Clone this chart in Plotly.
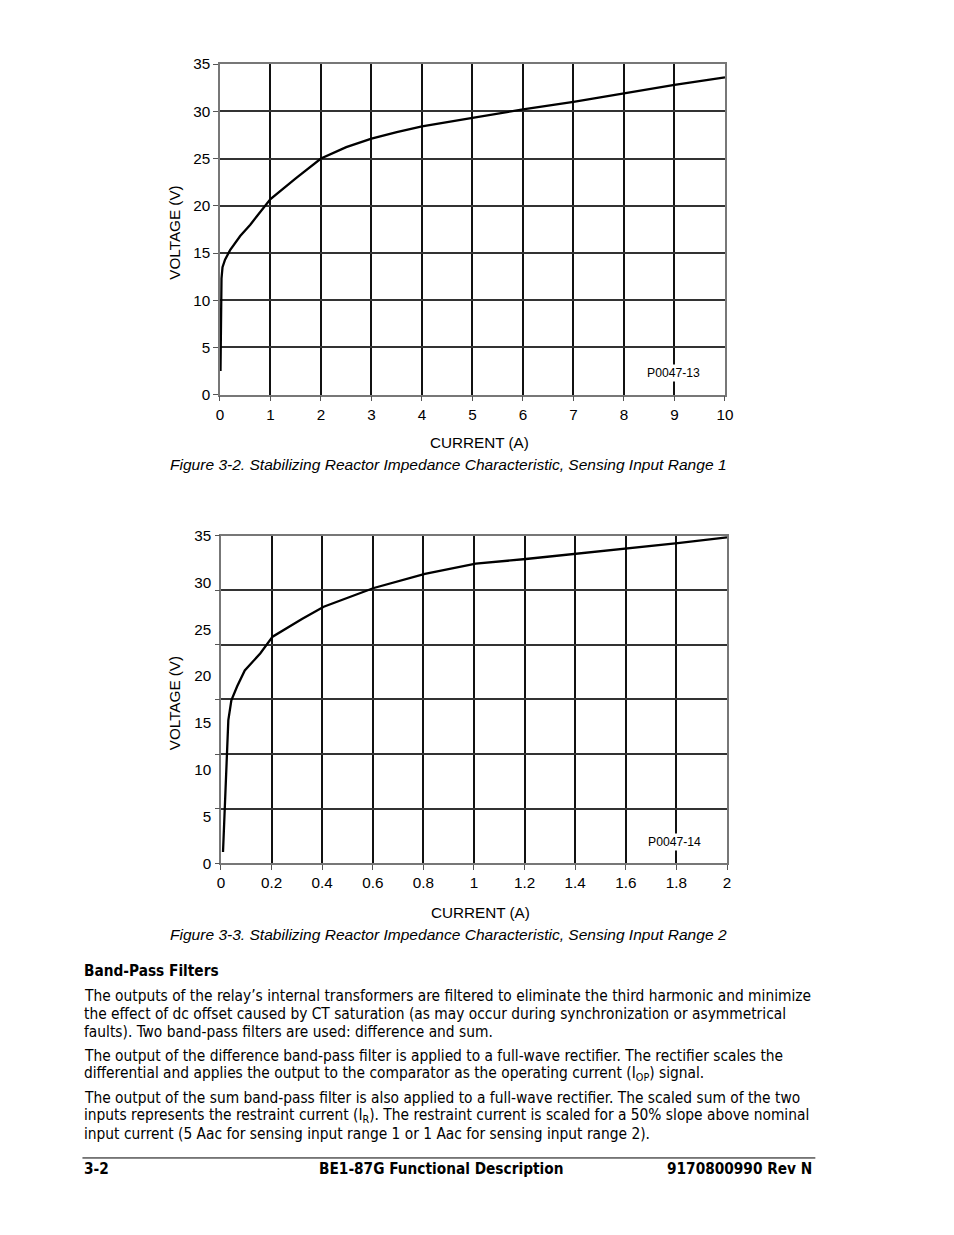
import plotly.graph_objects as go

W, H = 954, 1235
# the photographed page comes out offset by the 8px body margin and scaled to fit;
# positions below are given in target-page pixels and converted to figure pixels
SX, SY, OFF = 954 / 970, 1235 / 1251, 8
XNUDGE = 2

# ---- data: Figure 3-2 (Sensing Input Range 1)
current_r1 = [0.01, 0.02, 0.03, 0.05, 0.1, 0.2, 0.4, 0.6, 0.9, 1.0, 1.5, 2.0, 2.5, 3.0, 3.5, 4.0,
              5.0, 6.0, 7.0, 8.0, 9.0, 10.0]
voltage_r1 = [2.5, 7.0, 12.3, 13.5, 14.3, 15.3, 16.8, 18.0, 20.0, 20.7, 22.9, 25.0, 26.2, 27.1, 27.8, 28.4,
              29.3, 30.2, 31.0, 31.9, 32.8, 33.6]

# ---- data: Figure 3-3 (Sensing Input Range 2)
current_r2 = [0.008, 0.014, 0.023, 0.029, 0.041, 0.064, 0.094, 0.155, 0.204, 0.32, 0.406, 0.604,
              0.806, 1.007, 1.205, 1.405, 1.6, 1.805, 2.0]
voltage_r2 = [1.2, 5.7, 11.7, 15.3, 17.4, 18.9, 20.6, 22.4, 24.2, 26.1, 27.4, 29.4,
              30.9, 32.0, 32.5, 33.05, 33.6, 34.2, 34.8]

x_ticks_r1 = [0, 1, 2, 3, 4, 5, 6, 7, 8, 9, 10]
x_ticks_r2 = [0, 0.2, 0.4, 0.6, 0.8, 1, 1.2, 1.4, 1.6, 1.8, 2]
x_tick_text_r2 = ["0", "0.2", "0.4", "0.6", "0.8", "1", "1.2", "1.4", "1.6", "1.8", "2"]
y_ticks = [0, 5, 10, 15, 20, 25, 30, 35]

caption1 = "Figure 3-2. Stabilizing Reactor Impedance Characteristic, Sensing Input Range 1"
caption2 = "Figure 3-3. Stabilizing Reactor Impedance Characteristic, Sensing Input Range 2"
heading = "Band-Pass Filters"
body_lines = [
    (996, "The outputs of the relay’s internal transformers are filtered to eliminate the third harmonic and minimize"),
    (1014, "the effect of dc offset caused by CT saturation (as may occur during synchronization or asymmetrical"),
    (1032, "faults). Two band-pass filters are used: difference and sum."),
    (1056, "The output of the difference band-pass filter is applied to a full-wave rectifier. The rectifier scales the"),
    (1074, "differential and applies the output to the comparator as the operating current (I<sub>OP</sub>) signal."),
    (1098, "The output of the sum band-pass filter is also applied to a full-wave rectifier. The scaled sum of the two"),
    (1116, "inputs represents the restraint current (I<sub>R</sub>). The restraint current is scaled for a 50% slope above nominal"),
    (1134, "input current (5 Aac for sensing input range 1 or 1 Aac for sensing input range 2)."),
]

FONT = "Liberation Sans, Arial, sans-serif"
NARROW = "Liberation Sans Narrow, Arial Narrow, DejaVu Sans Condensed, Liberation Sans, sans-serif"


def px(x):
    return ((x + XNUDGE) / SX - OFF) / W


def py(y):
    return 1 - (y / SY - OFF) / H


def fs(size):
    return size / SX


fig = go.Figure()
fig.add_trace(go.Scatter(x=current_r1, y=voltage_r1, mode="lines", line=dict(color="black", width=2.3),
                         xaxis="x", yaxis="y", showlegend=False, hoverinfo="skip"))
fig.add_trace(go.Scatter(x=current_r2, y=voltage_r2, mode="lines", line=dict(color="black", width=2.3),
                         xaxis="x2", yaxis="y2", showlegend=False, hoverinfo="skip"))
fig.add_trace(go.Scatter(x=current_r2, y=voltage_r2, mode="lines", opacity=0,
                         xaxis="x2", yaxis="y3", showlegend=False, hoverinfo="skip"))

tickfont = dict(family=FONT, size=fs(15), color="black")
common_x = dict(showgrid=True, gridcolor="#111", gridwidth=1.8, showline=True, linecolor="#777",
                linewidth=1.5, mirror=True, ticks="outside", ticklen=5, tickcolor="#555",
                tickfont=tickfont, zeroline=False, fixedrange=True)

fig.update_layout(
    width=W, height=H, autosize=False,
    margin=dict(l=0, r=0, t=0, b=0),
    paper_bgcolor="white", plot_bgcolor="white",
    showlegend=False,
    xaxis=dict(domain=[px(221), px(724)], anchor="y", range=[0, 10], tickvals=x_ticks_r1, **common_x),
    yaxis=dict(domain=[py(394), py(63)], anchor="x", range=[0, 35], tickvals=y_ticks,
               showgrid=True, gridcolor="#333", gridwidth=1.5, showline=True, linecolor="#777",
               linewidth=1.5, mirror=True, ticks="outside", ticklen=5, tickcolor="#555",
               tickfont=tickfont, zeroline=False),
    xaxis2=dict(domain=[px(222), px(726)], anchor="y2", range=[0, 2], tickvals=x_ticks_r2,
                ticktext=x_tick_text_r2, **common_x),
    yaxis2=dict(domain=[py(863), py(535)], anchor="x2", range=[0, 35], tickvals=y_ticks,
                showgrid=False, showline=True, linecolor="#777", linewidth=1.5, mirror=True,
                ticks="outside", ticklen=5, tickcolor="rgba(0,0,0,0)", tickfont=tickfont, zeroline=False),
    yaxis3=dict(overlaying="y2", anchor="x2", range=[0, 35], tick0=0, dtick=35 / 6,
                showticklabels=False, showgrid=True, gridcolor="#333", gridwidth=1.5,
                ticks="outside", ticklen=5, tickcolor="#555", zeroline=False, showline=False),
)

ann = []


def text(x, y, s, size=15, family=FONT, xanchor="center", yanchor="middle", angle=0, color="black", bg=None):
    d = dict(x=px(x), y=py(y), xref="paper", yref="paper", text=s, showarrow=False,
             xanchor=xanchor, yanchor=yanchor, textangle=angle,
             font=dict(family=family, size=fs(size), color=color))
    if bg:
        d["bgcolor"] = bg
    ann.append(d)


# chart 1 labels
text(176, 232, "VOLTAGE (V)", size=15, angle=-90)
text(479, 442, "CURRENT (A)", size=15)
text(673, 372, "P0047-13", size=12, bg="white")
text(449, 464, "<i>" + caption1 + "</i>", size=15.3)

# chart 2 labels
text(176, 703, "VOLTAGE (V)", size=15, angle=-90)
text(480, 912, "CURRENT (A)", size=15)
text(674, 842, "P0047-14", size=12, bg="white")
text(449, 934, "<i>" + caption2 + "</i>", size=15.3)

# body text
text(84, 971, "<b>" + heading + "</b>", size=15, family=NARROW, xanchor="left")
for yy, line in body_lines:
    text(84, yy, line, size=15.1, family=NARROW, xanchor="left")

# footer
text(84, 1169, "<b>3-2</b>", size=15, family=NARROW, xanchor="left")
text(441, 1169, "<b>BE1-87G Functional Description</b>", size=15, family=NARROW)
text(813, 1169, "<b>9170800990 Rev N</b>", size=15, family=NARROW, xanchor="right")

fig.update_layout(annotations=ann,
                  shapes=[dict(type="line", xref="paper", yref="paper", x0=px(84), x1=px(814),
                               y0=py(1158), y1=py(1158), line=dict(color="black", width=1))])

fig.write_html("out.html")
